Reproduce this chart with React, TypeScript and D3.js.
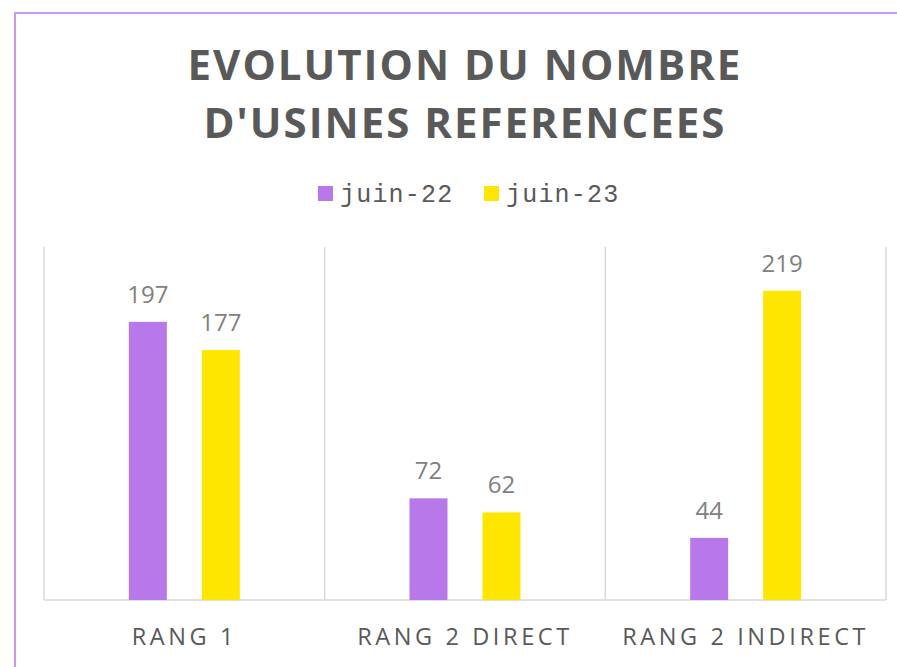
import React from "react";
import * as d3 from "d3";

const categories = ["RANG 1", "RANG 2 DIRECT", "RANG 2 INDIRECT"];
const seriesNames = ["juin-22", "juin-23"];
const juin22 = [197, 72, 44];
const juin23 = [177, 62, 219];
const seriesColors = ["#B878E9", "#FFE600"];
const titleLines = ["EVOLUTION DU NOMBRE", "D'USINES REFERENCEES"];

const W = 897;
const H = 667;
const plot = { left: 44, right: 886, top: 247, bottom: 600 };

export default function App() {
  const values = [juin22, juin23];
  const x0 = d3.scaleBand<string>().domain(categories).range([plot.left, plot.right]).padding(0);
  const bw = x0.bandwidth();
  const x1 = d3
    .scaleBand<string>()
    .domain(seriesNames)
    .range([bw / 2 - 55.5, bw / 2 + 55.5])
    .paddingInner(35 / 73)
    .paddingOuter(0);
  const y = d3.scaleLinear().domain([0, 250]).range([plot.bottom, plot.top]);

  const boundaries = categories.map((c) => x0(c)!).concat([plot.right]);

  return (
    <svg
      width={W}
      height={H}
      style={{ position: "absolute", left: 0, top: 0, background: "#fff" }}
    >
      <rect x={15} y={13} width={1000} height={1000} fill="#fff" stroke="#B878E9" strokeWidth={1.5} />
      {titleLines.map((t, i) => (
        <text
          key={t}
          x={465}
          y={80 + i * 58}
          textAnchor="middle"
          fontFamily="'Open Sans', sans-serif"
          fontWeight={700}
          fontSize={42}
          letterSpacing={2}
          fill="#595959"
        >
          {t}
        </text>
      ))}
      {/* legend */}
      {seriesNames.map((s, i) => {
        const lx = i === 0 ? 318 : 484;
        return (
          <g key={s}>
            <rect x={lx} y={186} width={15} height={15} fill={seriesColors[i]} />
            <text
              x={lx + 22}
              y={202}
              fontFamily="'Liberation Mono', 'Courier New', monospace"
              fontSize={25}
              letterSpacing={1.2}
              fill="#595959"
            >
              {s}
            </text>
          </g>
        );
      })}
      {/* gridlines */}
      {boundaries.map((b, i) => (
        <line key={i} x1={b} x2={b} y1={plot.top} y2={plot.bottom} stroke="#D9D9D9" strokeWidth={1.5} />
      ))}
      <line x1={plot.left} x2={plot.right} y1={plot.bottom} y2={plot.bottom} stroke="#D9D9D9" strokeWidth={1.5} />
      {/* bars */}
      {categories.map((c, ci) => (
        <g key={c} transform={`translate(${x0(c)},0)`}>
          {seriesNames.map((s, si) => {
            const v = values[si][ci];
            const bx = x1(s)!;
            return (
              <g key={s}>
                <rect x={bx} y={y(v)} width={x1.bandwidth()} height={plot.bottom - y(v)} fill={seriesColors[si]} />
                <text
                  x={bx + x1.bandwidth() / 2}
                  y={y(v) - 19}
                  textAnchor="middle"
                  fontFamily="'Open Sans', sans-serif"
                  fontSize={24}
                  fill="#7F7F7F"
                >
                  {v}
                </text>
              </g>
            );
          })}
          <text
            x={bw / 2}
            y={645}
            textAnchor="middle"
            fontFamily="'Open Sans', sans-serif"
            fontSize={23.5}
            letterSpacing={3.6}
            fill="#595959"
          >
            {c}
          </text>
        </g>
      ))}
    </svg>
  );
}
